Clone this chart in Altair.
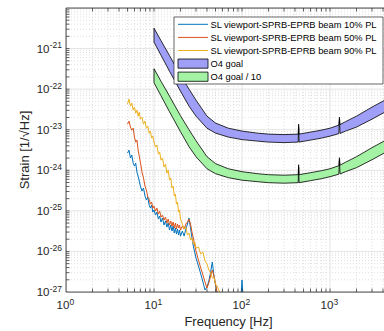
import altair as alt
import pandas as pd

# ---------------- scattered-light strain spectra (SL viewport, SPRB-EPRB beam) ----------------
freq_sl = [5.0, 5.2, 5.4, 5.6, 5.8, 6.0, 6.2, 6.4, 6.6, 6.8,
           7.0, 7.3, 7.6, 7.9, 8.2, 8.5, 8.8, 9.1, 9.4, 9.7,
           10, 10.4, 10.8, 11.2, 11.6,
           12, 12.5, 13, 13.5, 14, 14.5, 15, 15.5, 16, 16.5, 17, 17.5, 18, 18.5, 19, 19.5,
           20, 21, 22, 23, 24, 25, 26, 27, 28, 29, 30,
           32, 34, 36, 38, 40, 42, 44, 46, 48, 50, 52,
           55, 58, 60]

strain_90pl = [4.28e-23, 5.68e-23, 3.81e-23, 4.52e-23, 3.04e-23, 3.61e-23, 2.56e-23, 3.04e-23, 2.16e-23, 2.71e-23,
               1.82e-23, 2.04e-23, 1.37e-23, 1.63e-23, 1.09e-23, 1.23e-23, 8.24e-24, 9.24e-24, 6.21e-24, 6.95e-24,
               4.95e-24, 3.73e-24, 4.18e-24, 2.51e-24, 2.81e-24,
               1.78e-24, 2.00e-24, 1.20e-24, 1.42e-24, 8.53e-25, 1.01e-24, 5.74e-25, 6.43e-25, 3.65e-25, 4.08e-25,
               2.32e-25, 2.59e-25, 1.47e-25, 1.65e-25, 9.34e-26, 1.05e-25,
               6.28e-26, 4.73e-26, 3.56e-26, 3.99e-26, 2.54e-26, 2.84e-26, 1.91e-26, 2.14e-26, 1.52e-26, 1.71e-26, 1.21e-26,
               1.28e-26, 8.63e-27, 9.66e-27, 5.81e-27, 4.90e-27, 3.48e-27, 2.94e-27, 2.21e-27, 2.34e-27, 1.57e-27, 1.41e-27,
               1.06e-27, 7.96e-28, 6.7e-28]

strain_50pl = [1.37e-23, 1.63e-23, 1.16e-23, 9.77e-24, 1.09e-23, 6.58e-24, 4.95e-24, 5.55e-24, 3.15e-24, 2.24e-24,
               1.59e-24, 9.03e-25, 6.43e-25, 4.08e-25, 3.25e-25, 2.19e-25, 1.95e-25, 1.47e-25, 1.65e-25, 1.17e-25,
               1.31e-25, 9.89e-26, 1.17e-25, 8.34e-26, 9.89e-26,
               7.03e-26, 7.87e-26, 5.93e-26, 7.03e-26, 5.01e-26, 6.28e-26, 4.47e-26, 5.61e-26, 4.23e-26, 5.30e-26,
               3.77e-26, 5.01e-26, 3.56e-26, 4.73e-26, 3.77e-26, 4.47e-26,
               3.37e-26, 4.23e-26, 3.56e-26, 4.73e-26, 5.30e-26, 6.28e-26, 4.73e-26, 3.01e-26, 2.14e-26, 1.44e-26, 1.02e-26,
               6.14e-27, 3.90e-27, 2.62e-27, 1.76e-27, 1.26e-27, 1.67e-27, 2.48e-27, 3.48e-27, 2.48e-27, 1.57e-27, 1.0e-27,
               6.35e-28, 5.0e-28, 4.5e-28]

strain_10pl = [2.65e-24, 3.15e-24, 2.00e-24, 2.37e-24, 1.50e-24, 1.27e-24, 1.50e-24, 9.03e-25, 7.19e-25, 5.42e-25,
               4.08e-25, 3.07e-25, 3.65e-25, 2.32e-25, 1.85e-25, 2.19e-25, 1.39e-25, 1.17e-25, 1.39e-25, 9.34e-26,
               1.05e-25, 7.87e-26, 9.34e-26, 6.28e-26, 7.44e-26,
               5.30e-26, 6.65e-26, 4.47e-26, 5.61e-26, 3.99e-26, 5.01e-26, 3.37e-26, 4.47e-26, 3.18e-26, 4.23e-26,
               2.84e-26, 3.77e-26, 2.68e-26, 3.56e-26, 2.54e-26, 3.37e-26,
               2.39e-26, 3.18e-26, 2.39e-26, 3.56e-26, 4.73e-26, 6.65e-26, 3.77e-26, 2.14e-26, 1.36e-26, 9.66e-27, 6.87e-27,
               4.37e-27, 2.77e-27, 1.76e-27, 1.12e-27, 1.33e-27, 1.87e-27, 3.11e-27, 5.48e-27, 2.48e-27, 1.49e-27, 9.44e-28,
               6.35e-28, 5.0e-28, 4.5e-28]

# the 10% PL trace continues a little further (small line near 100 Hz)
freq_10pl_tail = [70, 85, 96, 100, 104, 115]
strain_10pl_tail = [4.0e-28, 4.0e-28, 4.5e-28, 1.98e-27, 5.0e-28, 4.0e-28]

# ---------------- O4 goal band (upper / lower edge) ----------------
goal_freq = [10, 12, 15, 20, 25, 30, 40, 50, 70, 100, 150, 200, 300,
             435, 440, 445, 600, 800, 1000, 1260, 1280, 1300, 1500, 2000, 3000, 4000, 5000]
goal_upper = [3.18e-21, 1.57e-21, 6.73e-22, 2.21e-22, 1.0e-22, 5.36e-23, 2.16e-23, 1.46e-23, 1.09e-23, 9.24e-24,
              8.24e-24, 7.79e-24, 7.57e-24, 7.79e-24, 1.37e-23, 7.79e-24, 8.72e-24, 9.77e-24, 1.09e-23,
              1.30e-23, 2.04e-23, 1.34e-23, 1.58e-23, 2.16e-23, 3.61e-23, 5.06e-23, 6.73e-23]
goal_lower = [1.44e-21, 6.87e-22, 2.77e-22, 8.93e-23, 3.81e-23, 2.16e-23, 1.09e-23, 8.24e-24, 6.58e-24, 5.70e-24,
              5.24e-24, 4.95e-24, 4.81e-24, 4.95e-24, 1.20e-23, 4.95e-24, 5.55e-24, 6.21e-24, 6.95e-24,
              8.0e-24, 1.80e-23, 8.1e-24, 9.24e-24, 1.16e-23, 1.82e-23, 2.56e-23, 3.40e-23]

# ---------------- axis decades ----------------
x_decades = [1, 10, 100, 1000]
x_exponents = ["0", "1", "2", "3"]
y_decades = [1e-27, 1e-26, 1e-25, 1e-24, 1e-23, 1e-22, 1e-21]
y_exponents = ["-27", "-26", "-25", "-24", "-23", "-22", "-21"]

legend_labels = ["SL viewport-SPRB-EPRB beam 10% PL",
                 "SL viewport-SPRB-EPRB beam 50% PL",
                 "SL viewport-SPRB-EPRB beam 90% PL",
                 "O4 goal",
                 "O4 goal / 10"]

C_10, C_50, C_90 = "#0072BD", "#D95319", "#EDB120"
C_GOAL, C_GOAL10 = "#a09ff7", "#a4f2a4"
INK = "#262626"
FONT = "Liberation Sans"

# 88 px per decade; the visible frequency range ends a little past 4 kHz
W, H = 318, 284
F_MAX = 4107
x_scale = alt.Scale(type="log", domain=[1, F_MAX])
y_scale = alt.Scale(type="log", domain=[1e-27, 1e-20])


def X(field):
    return alt.X(f"{field}:Q", scale=x_scale, axis=None)


def Y(field):
    return alt.Y(f"{field}:Q", scale=y_scale, axis=None)


# minor tick / grid positions (2..9 per decade)
x_minor = [m * 10 ** k for k in range(0, 4) for m in range(2, 10) if m * 10 ** k <= F_MAX]
y_minor = [m * 10.0 ** k for k in range(-27, -20) for m in range(2, 10)]

one = pd.DataFrame({"k": [0]})
layers = []

# ---- grid ----
layers.append(alt.Chart(pd.DataFrame({"f": x_minor})).mark_rule(
    color="#cbcbcb", strokeWidth=0.6, strokeDash=[1, 2]).encode(x=X("f")))
layers.append(alt.Chart(pd.DataFrame({"s": y_minor})).mark_rule(
    color="#cbcbcb", strokeWidth=0.6, strokeDash=[1, 2]).encode(y=Y("s")))
layers.append(alt.Chart(pd.DataFrame({"f": x_decades[1:]})).mark_rule(
    color="#dcdcdc", strokeWidth=0.8).encode(x=X("f")))
layers.append(alt.Chart(pd.DataFrame({"s": y_decades[1:]})).mark_rule(
    color="#dcdcdc", strokeWidth=0.8).encode(y=Y("s")))

# ---- spectra ----
df10 = pd.DataFrame({"f": freq_sl + freq_10pl_tail, "s": strain_10pl + strain_10pl_tail})
df50 = pd.DataFrame({"f": freq_sl, "s": strain_50pl})
df90 = pd.DataFrame({"f": freq_sl, "s": strain_90pl})
for df, col in [(df10, C_10), (df50, C_50), (df90, C_90)]:
    layers.append(alt.Chart(df).mark_line(color=col, strokeWidth=1, clip=True).encode(
        x=X("f"), y=Y("s")))

# ---- goal bands ----
goal = pd.DataFrame({"f": goal_freq, "hi": goal_upper, "lo": goal_lower})
goal10 = pd.DataFrame({"f": goal_freq,
                       "hi": [v / 10 for v in goal_upper],
                       "lo": [v / 10 for v in goal_lower]})
for df, col in [(goal, C_GOAL), (goal10, C_GOAL10)]:
    layers.append(alt.Chart(df).mark_area(fill=col, stroke="black", strokeWidth=0.8,
                                          opacity=1, clip=True).encode(
        x=X("f"), y=Y("hi"), y2=alt.Y2("lo")))

# ---- frame (left, bottom, top) and inward ticks ----
layers.append(alt.Chart(one).mark_rule(color=INK, strokeWidth=0.8).encode(
    x=alt.value(0), y=alt.value(0), y2=alt.value(H)))
layers.append(alt.Chart(one).mark_rule(color=INK, strokeWidth=0.8).encode(
    x=alt.value(0), x2=alt.value(W + 2), y=alt.value(H)))
layers.append(alt.Chart(one).mark_rule(color=INK, strokeWidth=0.8).encode(
    x=alt.value(0), x2=alt.value(W + 2), y=alt.value(0)))

tick_len = 3.5
xt = pd.DataFrame({"f": x_decades[1:] + x_minor})
yt = pd.DataFrame({"s": y_decades[1:] + y_minor})
layers.append(alt.Chart(xt).mark_rule(color=INK, strokeWidth=0.7).encode(
    x=X("f"), y=alt.value(H), y2=alt.value(H - tick_len)))
layers.append(alt.Chart(xt).mark_rule(color=INK, strokeWidth=0.7).encode(
    x=X("f"), y=alt.value(0), y2=alt.value(tick_len)))
layers.append(alt.Chart(yt).mark_rule(color=INK, strokeWidth=0.7).encode(
    y=Y("s"), x=alt.value(0), x2=alt.value(tick_len)))

# ---- tick labels (10 with raised exponent) ----
xl = pd.DataFrame({"v": x_decades, "e": x_exponents})
layers.append(alt.Chart(xl).mark_text(font=FONT, fontSize=11.5, color=INK, align="right",
                                      baseline="middle", dx=3.3).encode(
    x=X("v"), y=alt.value(H + 14), text=alt.value("10")))
layers.append(alt.Chart(xl).mark_text(font=FONT, fontSize=8.5, color=INK, align="left",
                                      baseline="middle", dx=3.6).encode(
    x=X("v"), y=alt.value(H + 9.5), text="e:N"))

yl = pd.DataFrame({"v": y_decades, "e": y_exponents})
layers.append(alt.Chart(yl).mark_text(font=FONT, fontSize=11.5, color=INK, align="right",
                                      baseline="middle", dy=1).encode(
    x=alt.value(-16.5), y=Y("v"), text=alt.value("10")))
layers.append(alt.Chart(yl).mark_text(font=FONT, fontSize=8.5, color=INK, align="right",
                                      baseline="middle", dy=-3.5).encode(
    x=alt.value(-4), y=Y("v"), text="e:N"))

# ---- axis titles ----
layers.append(alt.Chart(one).mark_text(font=FONT, fontSize=13, color=INK, align="center",
                                       baseline="middle").encode(
    x=alt.value(162.5), y=alt.value(H + 30), text=alt.value("Frequency [Hz]")))
layers.append(alt.Chart(one).mark_text(font=FONT, fontSize=13, color=INK, align="center",
                                       baseline="middle", angle=270).encode(
    x=alt.value(-41), y=alt.value(H / 2), text=alt.value("Strain [1/\u221aHz]")))

# ---- legend box ----
LX0, LX1, LY0, LY1 = 108, 317, 9, 76
layers.append(alt.Chart(one).mark_rect(fill="white", stroke=INK, strokeWidth=0.7).encode(
    x=alt.value(LX0), x2=alt.value(LX1), y=alt.value(LY0), y2=alt.value(LY1)))
row_y = [16.3, 29.4, 42.5, 55.6, 68.7]
kinds = [("line", C_10), ("line", C_50), ("line", C_90), ("patch", C_GOAL), ("patch", C_GOAL10)]
for (kind, col), yc, label in zip(kinds, row_y, legend_labels):
    if kind == "line":
        layers.append(alt.Chart(one).mark_rule(color=col, strokeWidth=1).encode(
            x=alt.value(112), x2=alt.value(142), y=alt.value(yc)))
    else:
        layers.append(alt.Chart(one).mark_rect(fill=col, stroke="black", strokeWidth=0.8).encode(
            x=alt.value(112), x2=alt.value(142), y=alt.value(yc - 4.6), y2=alt.value(yc + 4.6)))
    layers.append(alt.Chart(one).mark_text(font=FONT, fontSize=9.3, color="black", align="left",
                                           baseline="middle").encode(
        x=alt.value(144.5), y=alt.value(yc + 0.5), text=alt.value(label)))

chart = alt.layer(*layers).properties(
    width=W, height=H,
    autosize=alt.AutoSizeParams(type="none"),
    padding={"left": 66, "top": 8, "right": 0, "bottom": 39},
).configure_view(strokeWidth=0).configure(background="white")

chart.save("out.html", embed_options={"renderer": "svg", "actions": False})
